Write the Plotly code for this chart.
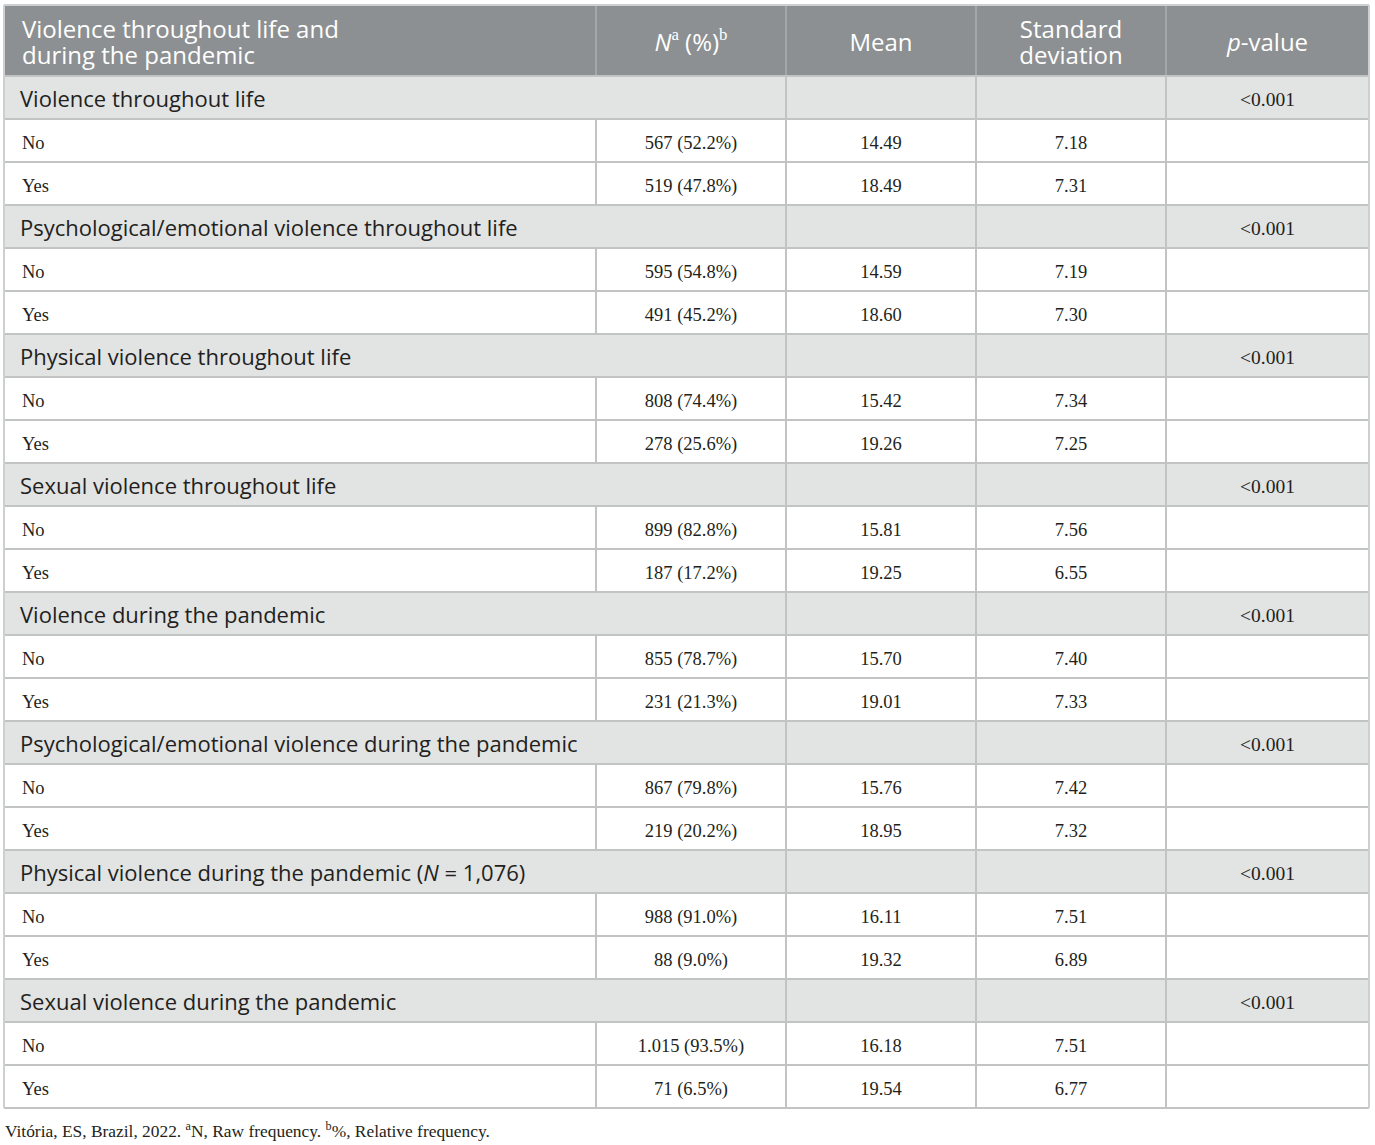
import plotly.graph_objects as go

# Table data
header_lines = [["Violence throughout life and", "during the pandemic"],
                ["<i>N</i><sup><span style='font-family:Liberation Serif'>a</span></sup> (%)"
                 "<sup><span style='font-family:Liberation Serif'>b</span></sup>"],
                ["Mean"],
                ["Standard", "deviation"],
                ["<i>p</i>-value"]]

groups = ["Violence throughout life",
          "Psychological/emotional violence throughout life",
          "Physical violence throughout life",
          "Sexual violence throughout life",
          "Violence during the pandemic",
          "Psychological/emotional violence during the pandemic",
          "Physical violence during the pandemic (<i>N</i> = 1,076)",
          "Sexual violence during the pandemic"]
p_values = ["<0.001"] * 8

levels = ["No", "Yes"]
n_no = ["567 (52.2%)", "595 (54.8%)", "808 (74.4%)", "899 (82.8%)",
        "855 (78.7%)", "867 (79.8%)", "988 (91.0%)", "1.015 (93.5%)"]
n_yes = ["519 (47.8%)", "491 (45.2%)", "278 (25.6%)", "187 (17.2%)",
         "231 (21.3%)", "219 (20.2%)", "88 (9.0%)", "71 (6.5%)"]
mean_no = ["14.49", "14.59", "15.42", "15.81", "15.70", "15.76", "16.11", "16.18"]
mean_yes = ["18.49", "18.60", "19.26", "19.25", "19.01", "18.95", "19.32", "19.54"]
sd_no = ["7.18", "7.19", "7.34", "7.56", "7.40", "7.42", "7.51", "7.51"]
sd_yes = ["7.31", "7.30", "7.25", "6.55", "7.33", "7.32", "6.89", "6.77"]

footnote = ("Vitória, ES, Brazil, 2022. <sup>a</sup>N, Raw frequency. "
            "<sup>b</sup>%, Relative frequency.")

# Layout (axis units = page pixels)
W, H = 1375, 1145
col_edges = [4, 596, 786, 976, 1166, 1369]
head_top, head_bot = 5, 76
row_h = 43
TEXT_DY = 3.5  # plotly's "middle" sits a little high
HEAD_FILL = "#8c9092"
GROUP_FILL = "#e2e3e3"
LINE = "#c2c4c4"
TXT = "#231f20"
SANS = "Open Sans"
SERIF = "Liberation Serif"

# build body rows: (kind, cells)
rows = []
for i, g in enumerate(groups):
    rows.append(("group", [g, "", "", "", p_values[i]]))
    rows.append(("data", [levels[0], n_no[i], mean_no[i], sd_no[i], ""]))
    rows.append(("data", [levels[1], n_yes[i], mean_yes[i], sd_yes[i], ""]))

centers = [(col_edges[j] + col_edges[j + 1]) / 2 for j in range(5)]
shapes = []

# header background
shapes.append(dict(type="rect", x0=col_edges[0], x1=col_edges[-1], y0=head_top, y1=head_bot,
                   fillcolor=HEAD_FILL, line_width=0, layer="below"))
for xe in col_edges[1:-1]:
    shapes.append(dict(type="line", x0=xe, x1=xe, y0=head_top, y1=head_bot,
                       line=dict(color="#a3a7a9", width=2)))

body_bottom = head_bot + row_h * len(rows)
for r, (kind, cells) in enumerate(rows):
    y0 = head_bot + r * row_h
    y1 = y0 + row_h
    if kind == "group":
        shapes.append(dict(type="rect", x0=col_edges[0], x1=col_edges[-1], y0=y0, y1=y1,
                           fillcolor=GROUP_FILL, line_width=0, layer="below"))
    inner = col_edges[2:-1] if kind == "group" else col_edges[1:-1]
    for xe in inner:
        shapes.append(dict(type="line", x0=xe, x1=xe, y0=y0, y1=y1,
                           line=dict(color=LINE, width=2)))
    shapes.append(dict(type="line", x0=col_edges[0], x1=col_edges[-1], y0=y1, y1=y1,
                       line=dict(color=LINE, width=2)))

shapes.append(dict(type="line", x0=col_edges[0], x1=col_edges[-1], y0=head_bot, y1=head_bot,
                   line=dict(color=LINE, width=2)))
# outer border
for xe in (col_edges[0], col_edges[-1]):
    shapes.append(dict(type="line", x0=xe, x1=xe, y0=head_top, y1=body_bottom,
                       line=dict(color="#cdd0d0", width=2)))
shapes.append(dict(type="line", x0=col_edges[0], x1=col_edges[-1], y0=head_top, y1=head_top,
                   line=dict(color="#cdd0d0", width=2)))

fig = go.Figure()

# header text, one line at a time
hx, hy, ht, hx0, hy0, ht0 = [], [], [], [], [], []
hmid = (head_top + head_bot) / 2 + TEXT_DY + 0.5
for j, lines in enumerate(header_lines):
    for k, line in enumerate(lines):
        yl = hmid + (k - (len(lines) - 1) / 2) * 26
        if j == 0:
            hx0.append(col_edges[0] + 18); hy0.append(yl); ht0.append(line)
        else:
            hx.append(centers[j]); hy.append(yl); ht.append(line)
fig.add_trace(go.Scatter(x=hx0, y=hy0, text=ht0, mode="text", textposition="middle right",
                         textfont=dict(family=SANS, size=24, color="white")))
fig.add_trace(go.Scatter(x=hx, y=hy, text=ht, mode="text", textposition="middle center",
                         textfont=dict(family=SANS, size=24, color="white")))

# body text
gx, gy, gt = [], [], []
px_, py_, pt = [], [], []
lx, ly, lt = [], [], []
dx, dy, dt = [], [], []
for r, (kind, cells) in enumerate(rows):
    yc = head_bot + r * row_h + row_h / 2 + TEXT_DY
    if kind == "group":
        gx.append(col_edges[0] + 16); gy.append(yc); gt.append(cells[0])
        px_.append(centers[4]); py_.append(yc); pt.append(cells[4])
    else:
        lx.append(col_edges[0] + 18); ly.append(yc); lt.append(cells[0])
        for j in range(1, 4):
            dx.append(centers[j]); dy.append(yc); dt.append(cells[j])

fig.add_trace(go.Scatter(x=gx, y=gy, text=gt, mode="text", textposition="middle right",
                         textfont=dict(family=SANS, size=22, color=TXT)))
fig.add_trace(go.Scatter(x=px_, y=py_, text=pt, mode="text", textposition="middle center",
                         textfont=dict(family=SERIF, size=19.5, color=TXT)))
fig.add_trace(go.Scatter(x=lx, y=ly, text=lt, mode="text", textposition="middle right",
                         textfont=dict(family=SERIF, size=18.5, color=TXT)))
fig.add_trace(go.Scatter(x=dx, y=dy, text=dt, mode="text", textposition="middle center",
                         textfont=dict(family=SERIF, size=18.5, color=TXT)))

# footnote
fig.add_trace(go.Scatter(x=[col_edges[0] + 1], y=[body_bottom + 25], text=[footnote], mode="text",
                         textposition="middle right",
                         textfont=dict(family=SERIF, size=17.4, color=TXT)))

fig.update_traces(hoverinfo="skip", showlegend=False, cliponaxis=False)
fig.update_layout(
    width=W, height=H,
    margin=dict(l=0, r=0, t=0, b=0),
    paper_bgcolor="white", plot_bgcolor="white",
    xaxis=dict(range=[0, W], visible=False, fixedrange=True),
    yaxis=dict(range=[H, 0], visible=False, fixedrange=True),
    shapes=shapes,
)

# drop the default 8px body margin so the figure fills the window exactly
fig.write_html("out.html", config={"displayModeBar": False},
               post_script="document.body.style.margin = '0';")
